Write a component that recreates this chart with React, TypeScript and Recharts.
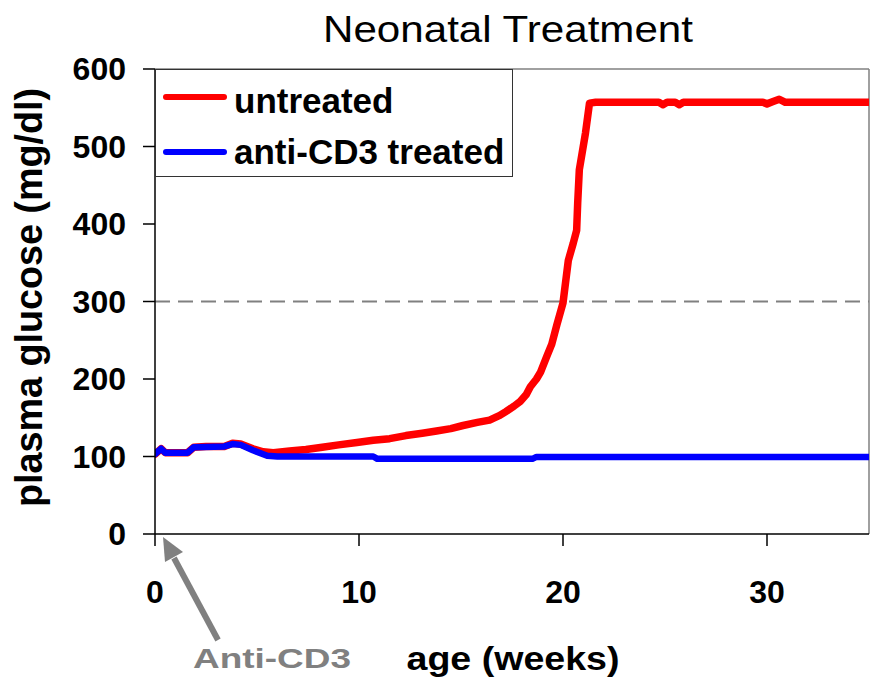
import React from 'react';
import { LineChart, Line, XAxis, YAxis, ReferenceLine, Legend } from 'recharts';

// untreated mice (red)
const untreatedWeeks = [0, 0.3, 0.5, 1.0, 1.6, 1.9, 2.5, 3.4, 3.8, 4.2, 4.8, 5.3, 5.8, 6.6, 7.4, 8.2, 9.0, 9.9, 10.7, 11.5, 12.3, 13.1, 13.8, 14.5, 15.1, 15.8, 16.4, 16.9, 17.2, 17.6, 17.9, 18.2, 18.4, 18.7, 18.9, 19.2, 19.45, 19.7, 20.0, 20.26, 20.5, 20.67, 20.72, 20.8, 21.1, 21.3, 21.6, 24.7, 24.9, 25.1, 25.5, 25.7, 25.9, 29.8, 30.0, 30.3, 30.6, 30.9, 35];
const untreatedGlucose = [103, 110, 105, 105, 105, 112, 113, 113, 117, 116, 110, 106, 105, 107, 109, 112, 115, 118, 121, 123, 127, 130, 133, 136, 140, 144, 147, 153, 158, 165, 171, 180, 190, 200, 209, 229, 245, 270, 298, 353, 375, 392, 427, 470, 517, 556, 557, 557, 554, 557, 557, 554, 557, 557, 555, 558, 561, 557, 557];

// anti-CD3 treated mice (blue)
const treatedWeeks = [0, 0.3, 0.5, 1.6, 1.9, 3.4, 3.8, 4.2, 4.8, 5.5, 6.0, 10.7, 10.9, 18.5, 18.7, 35];
const treatedGlucose = [103, 110, 105, 105, 112, 113, 116, 115, 108, 101, 100, 100, 97, 97, 99.5, 99.5];

const seriesNames = ['untreated', 'anti-CD3 treated'];
const yTicks = [0, 100, 200, 300, 400, 500, 600];
const xTicks = [0, 10, 20, 30];

const untreatedData = untreatedWeeks.map((w, i) => ({ week: w, glucose: untreatedGlucose[i] }));
const treatedData = treatedWeeks.map((w, i) => ({ week: w, glucose: treatedGlucose[i] }));

const FONT = '"Liberation Sans", Arial, sans-serif';

const LegendBox = (props: any) => {
  // keep the series order of the original legend
  const items = seriesNames
    .map((n) => (props.payload || []).find((p: any) => p.value === n))
    .filter(Boolean);
  return (
    <div
      style={{
        width: 358,
        height: 108,
        boxSizing: 'border-box',
        border: '1.5px solid #333',
        background: '#fff',
      }}
    >
      <svg width={355} height={105}>
        {items.map((entry: any, i: number) => (
          <g key={entry.value}>
            <line x1={10} x2={68} y1={27 + i * 55} y2={27 + i * 55} stroke={entry.color} strokeWidth={6} strokeLinecap="round" />
            <text x={78} y={43 + i * 51} fontFamily={FONT} fontWeight="bold" fontSize={35} fill="#000">
              {entry.value}
            </text>
          </g>
        ))}
      </svg>
    </div>
  );
};

export default function App() {
  return (
    <div style={{ position: 'absolute', left: 0, top: 0, width: 870, height: 679, background: '#fff' }}>
      <LineChart width={870} height={679} margin={{ top: 69, right: 1, bottom: 85, left: 95 }}>
        <XAxis
          type="number"
          dataKey="week"
          domain={[0, 35]}
          ticks={xTicks}
          height={60}
          allowDataOverflow
          tickSize={12}
          tickMargin={34}
          axisLine={{ stroke: '#000', strokeWidth: 1.5 }}
          tickLine={{ stroke: '#000', strokeWidth: 1.5 }}
          tick={{ fill: '#000', fontSize: 32, fontWeight: 'bold', fontFamily: FONT }}
        />
        <YAxis
          type="number"
          domain={[0, 600]}
          ticks={yTicks}
          width={60}
          tickSize={12}
          tickMargin={17}
          axisLine={{ stroke: '#000', strokeWidth: 1.5 }}
          tickLine={{ stroke: '#000', strokeWidth: 1.5 }}
          tick={{ fill: '#000', fontSize: 32, fontWeight: 'bold', fontFamily: FONT }}
        />
        <ReferenceLine y={600} stroke="#808080" strokeWidth={1.5} />
        <ReferenceLine x={35} stroke="#808080" strokeWidth={1.5} />
        <ReferenceLine y={300} stroke="#808080" strokeWidth={2} strokeDasharray="15 8" />
        <Legend
          layout="vertical"
          align="center"
          verticalAlign="middle"
          wrapperStyle={{ left: 155, top: 69, width: 358, height: 108 }}
          content={<LegendBox />}
        />
        <Line
          data={untreatedData}
          dataKey="glucose"
          name="untreated"
          stroke="#ff0000"
          strokeWidth={7.5}
          strokeLinecap="round"
          strokeLinejoin="round"
          dot={false}
          type="linear"
          isAnimationActive={false}
        />
        <Line
          data={treatedData}
          dataKey="glucose"
          name="anti-CD3 treated"
          stroke="#0000ff"
          strokeWidth={6.5}
          strokeLinecap="round"
          strokeLinejoin="round"
          dot={false}
          type="linear"
          isAnimationActive={false}
        />
      </LineChart>
      <svg
        width={870}
        height={679}
        style={{ position: 'absolute', left: 0, top: 0, pointerEvents: 'none' }}
      >
        <text x={508} y={42} textAnchor="middle" fontFamily={FONT} fontSize={36} fill="#000" textLength={370} lengthAdjust="spacingAndGlyphs">
          Neonatal Treatment
        </text>
        <text
          transform="translate(42, 297.5) rotate(-90)"
          textAnchor="middle"
          fontFamily={FONT}
          fontWeight="bold"
          fontSize={38}
          fill="#000"
          textLength={419}
          lengthAdjust="spacingAndGlyphs"
        >
          plasma glucose (mg/dl)
        </text>
        <text x={513} y={670} textAnchor="middle" fontFamily={FONT} fontWeight="bold" fontSize={33} fill="#000" textLength={213} lengthAdjust="spacingAndGlyphs">
          age (weeks)
        </text>
        <text x={193} y={668} fontFamily={FONT} fontWeight="bold" fontSize={28} fill="#808080" textLength={158} lengthAdjust="spacingAndGlyphs">
          Anti-CD3
        </text>
        <line x1={218} y1={640} x2={174} y2={558} stroke="#808080" strokeWidth={6} />
        <polygon points="163,537 183,552 165,562" fill="#808080" />
      </svg>
    </div>
  );
}
